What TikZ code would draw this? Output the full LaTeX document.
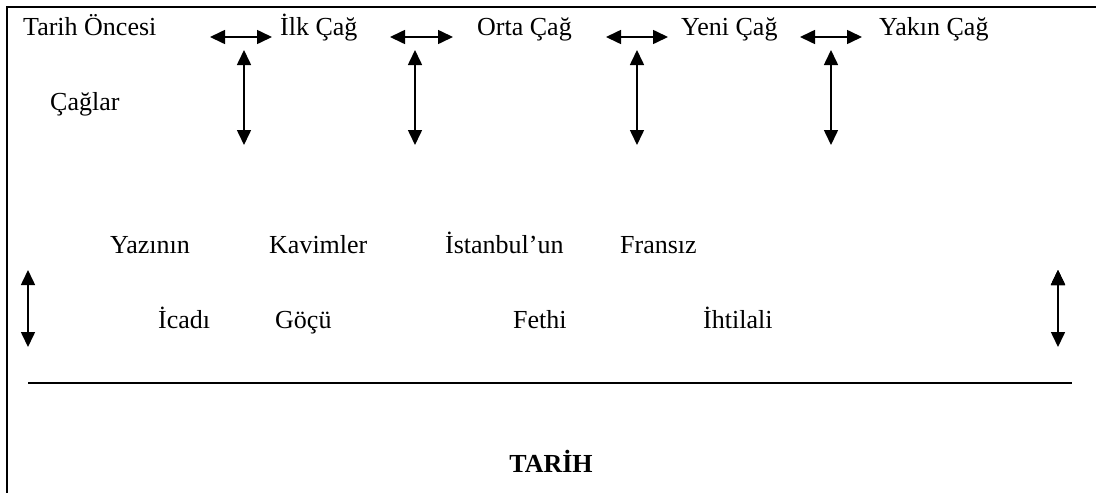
\documentclass[tikz,border=0pt]{standalone}
\usepackage{fontspec}
\setmainfont{Liberation Serif}
\usetikzlibrary{arrows.meta}
\tikzset{
	>={Triangle[length=15pt,width=14pt]},
	every node/.style={anchor=base west, inner sep=0pt, font=\fontsize{26}{30}\selectfont},
	link/.style={<->, line width=1.6pt},
	frame/.style={line width=2.4pt}}

\begin{document}
\begin{tikzpicture}[x=1pt, y=-1pt]
	\useasboundingbox (0,0) rectangle (1096,493);
	\draw[frame] (7,493) -- (7,7) -- (1096,7);

	% eras
	\node (pre) at (23,35) {Tarih Öncesi};
	\node (ilk) at (280,35) {İlk Çağ};
	\node (orta) at (477,35) {Orta Çağ};
	\node (yeni) at (681,35) {Yeni Çağ};
	\node (yakin) at (879,35) {Yakın Çağ};
	\node (caglar) at (50,110) {Çağlar};

	% events
	\node (yazi) at (110,253) {Yazının};
	\node (kavim) at (269,253) {Kavimler};
	\node (ist) at (445,253) {İstanbul’un};
	\node (fransiz) at (620,253) {Fransız};
	\node (icat) at (158,328) {İcadı};
	\node (goc) at (275,328) {Göçü};
	\node (fetih) at (513,328) {Fethi};
	\node (ihtilal) at (703,328) {İhtilali};
	\node[anchor=base, font=\fontsize{26}{30}\selectfont\bfseries] (tarih) at (551,472) {TARİH};

	% arrow ends
	\foreach \n/\a/\b in {1/210/272, 2/390/453, 3/606/668, 4/800/862}
		{\coordinate (h\n a) at (\a,37); \coordinate (h\n b) at (\b,37);}
	\foreach \n/\x in {1/244, 2/415, 3/637, 4/831}
		{\coordinate (v\n a) at (\x,50); \coordinate (v\n b) at (\x,145);}
	\coordinate (lefta) at (28,270);
	\coordinate (leftb) at (28,347);
	\coordinate (righta) at (1058,270);
	\coordinate (rightb) at (1058,347);
	\coordinate (rulea) at (28,383);
	\coordinate (ruleb) at (1072,383);

	\draw[link]
	(h1a) edge (h1b)
	(h2a) edge (h2b)
	(h3a) edge (h3b)
	(h4a) edge (h4b)
	(v1a) edge (v1b)
	(v2a) edge (v2b)
	(v3a) edge (v3b)
	(v4a) edge (v4b)
	(lefta) edge (leftb)
	(righta) edge (rightb)
	;
	\draw[line width=2pt] (rulea) -- (ruleb);
\end{tikzpicture}
\end{document}
